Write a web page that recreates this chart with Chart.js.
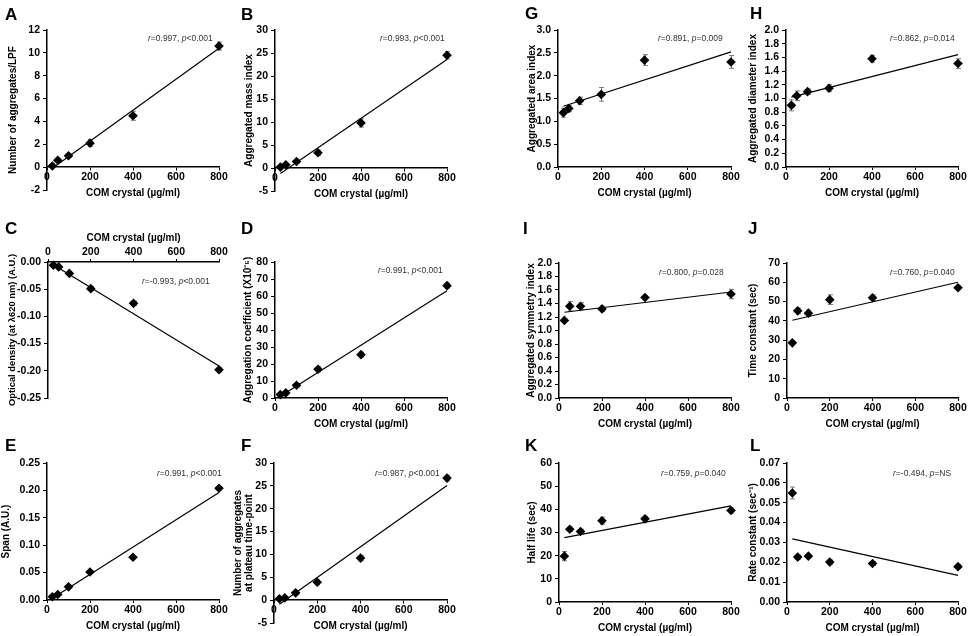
<!DOCTYPE html>
<html><head><meta charset="utf-8">
<script src="https://cdn.jsdelivr.net/npm/chart.js@4"></script>
<style>
body{margin:0;width:970px;height:636px;position:relative;overflow:hidden;background:#fff;font-family:"Liberation Sans",Arial,sans-serif}
canvas{position:absolute}
.lt{position:absolute;font-weight:bold;font-size:17px;line-height:17px;color:#000}
.rt{position:absolute;font-size:8.5px;line-height:10px;color:#333;white-space:nowrap}
</style></head><body>
<script>
// ---------- data ----------
const X = [25, 50, 100, 200, 400, 800];
const xTickLabels = ['0', '200', '400', '600', '800'];
const xTitle = 'COM crystal (µg/ml)';

const A_values = [0.1, 0.6, 1.0, 2.1, 4.5, 10.6];
const A_errors = [0.1, 0.15, 0.15, 0.3, 0.4, 0.35];
const A_trend = [-0.1, 10.4];
const A_yTicks = ['-2', '0', '2', '4', '6', '8', '10', '12'];

const B_values = [0.2, 0.7, 1.4, 3.3, 9.8, 24.5];
const B_errors = [0.2, 0.3, 0.3, 0.6, 0.9, 0.8];
const B_trend = [-1.2, 23.6];
const B_yTicks = ['-5', '0', '5', '10', '15', '20', '25', '30'];

const C_values = [-0.006, -0.009, -0.021, -0.049, -0.076, -0.198];
const C_errors = [0.002, 0.002, 0.003, 0.004, 0.004, 0.004];
const C_trend = [-0.005, -0.191];
const C_yTicks = ['-0.25', '-0.20', '-0.15', '-0.10', '-0.05', '0.00'];

const D_values = [2.0, 3.0, 7.5, 16.9, 25.5, 66.1];
const D_errors = [0.5, 0.8, 1.0, 1.5, 1.5, 1.5];
const D_trend = [1.0, 63.1];
const D_yTicks = ['0', '10', '20', '30', '40', '50', '60', '70', '80'];

const E_values = [0.006, 0.010, 0.024, 0.051, 0.078, 0.204];
const E_errors = [0.002, 0.002, 0.003, 0.003, 0.003, 0.003];
const E_trend = [0.003, 0.196];
const E_yTicks = ['0.00', '0.05', '0.10', '0.15', '0.20', '0.25'];

const F_values = [0.3, 0.5, 1.6, 3.9, 9.2, 26.7];
const F_errors = [0.3, 0.3, 0.4, 0.5, 0.6, 0.6];
const F_trend = [-0.9, 25.1];
const F_yTicks = ['-5', '0', '5', '10', '15', '20', '25', '30'];

const G_values = [1.19, 1.28, 1.45, 1.59, 2.34, 2.30];
const G_errors = [0.10, 0.07, 0.08, 0.15, 0.12, 0.14];
const G_trend = [1.33, 2.52];
const G_yTicks = ['0.0', '0.5', '1.0', '1.5', '2.0', '2.5', '3.0'];

const H_values = [0.90, 1.04, 1.10, 1.15, 1.58, 1.51];
const H_errors = [0.08, 0.07, 0.04, 0.05, 0.05, 0.07];
const H_trend = [1.02, 1.64];
const H_yTicks = ['0.0', '0.2', '0.4', '0.6', '0.8', '1.0', '1.2', '1.4', '1.6', '1.8', '2.0'];

const I_values = [1.15, 1.36, 1.36, 1.32, 1.49, 1.54];
const I_errors = [0.02, 0.07, 0.05, 0.04, 0.02, 0.07];
const I_trend = [1.27, 1.57];
const I_yTicks = ['0.0', '0.2', '0.4', '0.6', '0.8', '1.0', '1.2', '1.4', '1.6', '1.8', '2.0'];

const J_values = [28.6, 45.2, 44.0, 51.0, 52.0, 57.2];
const J_errors = [1.0, 1.5, 1.5, 2.5, 1.5, 1.0];
const J_trend = [40.3, 60.0];
const J_yTicks = ['0', '10', '20', '30', '40', '50', '60', '70'];

const K_values = [19.8, 31.4, 30.4, 35.1, 35.9, 39.5];
const K_errors = [2.0, 1.0, 1.0, 1.5, 1.0, 1.0];
const K_trend = [27.8, 41.5];
const K_yTicks = ['0', '10', '20', '30', '40', '50', '60'];

const L_values = [0.0549, 0.0226, 0.0231, 0.0201, 0.0194, 0.0178];
const L_errors = [0.003, 0.001, 0.001, 0.001, 0.001, 0.001];
const L_trend = [0.0318, 0.0134];
const L_yTicks = ['0.00', '0.01', '0.02', '0.03', '0.04', '0.05', '0.06', '0.07'];

// ---------- panels (data refs + layout) ----------
const panels = [
  {id:'A', v:A_values, e:A_errors, t:A_trend, yt:A_yTicks, title:'Number of aggregates/LPF', r:'0.997', p:'<0.001',
   g:{L:47, R:219, T:30, B:190, tc:13, xpos:'zero', letter:[5,6], rt:[148,38]}},
  {id:'B', v:B_values, e:B_errors, t:B_trend, yt:B_yTicks, title:'Aggregated mass index', r:'0.993', p:'<0.001',
   g:{L:275, R:447, T:30, B:191, tc:249, xpos:'zero', letter:[241,6], rt:[380,38]}},
  {id:'C', v:C_values, e:C_errors, t:C_trend, yt:C_yTicks, title:'Optical density (at λ620 nm) (A.U.)', r:'-0.993', p:'<0.001',
   g:{L:48, R:219, T:262, B:398, tc:13, xpos:'top', letter:[5,220], rt:[142,281], ts:9.4}},
  {id:'D', v:D_values, e:D_errors, t:D_trend, yt:D_yTicks, title:'Aggregation coefficient (X10⁻⁵)', r:'0.991', p:'<0.001',
   g:{L:275, R:447, T:262, B:398, tc:248, xpos:'bottom', letter:[241,220], rt:[378,270]}},
  {id:'E', v:E_values, e:E_errors, t:E_trend, yt:E_yTicks, title:'Span (A.U.)', r:'0.991', p:'<0.001',
   g:{L:47, R:219, T:463, B:600, tc:6, xpos:'bottom', letter:[5,437], rt:[157,473]}},
  {id:'F', v:F_values, e:F_errors, t:F_trend, yt:F_yTicks, title:['Number of aggregates','at plateau time-point'], r:'0.987', p:'<0.001',
   g:{L:274, R:447, T:463, B:623, tc:239, xpos:'zero', letter:[241,437], rt:[375,473], tlh:1.05}},
  {id:'G', v:G_values, e:G_errors, t:G_trend, yt:G_yTicks, title:'Aggregated area index', r:'0.891', p:'=0.009',
   g:{L:558, R:731, T:30, B:167, tc:532, xpos:'bottom', letter:[525,5], rt:[658,38]}},
  {id:'H', v:H_values, e:H_errors, t:H_trend, yt:H_yTicks, title:'Aggregated diameter index', r:'0.862', p:'=0.014',
   g:{L:786, R:958, T:30, B:167, tc:753, xpos:'bottom', letter:[750,5], rt:[890,38]}},
  {id:'I', v:I_values, e:I_errors, t:I_trend, yt:I_yTicks, title:'Aggregated symmetry index', r:'0.800', p:'=0.028',
   g:{L:559, R:731, T:263, B:398, tc:531, xpos:'bottom', letter:[523,220], rt:[659,272]}},
  {id:'J', v:J_values, e:J_errors, t:J_trend, yt:J_yTicks, title:'Time constant (sec)', r:'0.760', p:'=0.040',
   g:{L:787, R:958, T:263, B:398, tc:753, xpos:'bottom', letter:[748,220], rt:[890,272]}},
  {id:'K', v:K_values, e:K_errors, t:K_trend, yt:K_yTicks, title:'Half life (sec)', r:'0.759', p:'=0.040',
   g:{L:559, R:731, T:463, B:602, tc:532, xpos:'bottom', letter:[525,437], rt:[661,473]}},
  {id:'L', v:L_values, e:L_errors, t:L_trend, yt:L_yTicks, title:'Rate constant (sec⁻¹)', r:'-0.494', p:'=NS',
   g:{L:787, R:958, T:463, B:602, tc:753, xpos:'bottom', letter:[750,437], rt:[893,473]}}
];

Chart.defaults.font.family = '"Liberation Sans", Arial, sans-serif';
Chart.defaults.font.size = 10;
Chart.defaults.font.weight = 'bold';
Chart.defaults.color = '#000';

const errPlugin = {
  id: 'errbars',
  beforeDatasetsDraw(chart, args, opts) {
    const err = opts.err; if (!err) return;
    const {ctx} = chart; const x = chart.scales.x, y = chart.scales.y;
    const ds = chart.data.datasets[0];
    ctx.save(); ctx.strokeStyle = '#7a7a7a'; ctx.lineWidth = 1;
    ds.data.forEach((pt, i) => {
      const e = err[i];
      const px = Math.round(x.getPixelForValue(pt.x)) + 0.5;
      const y1 = y.getPixelForValue(pt.y + e), y2 = y.getPixelForValue(pt.y - e);
      ctx.beginPath();
      ctx.moveTo(px, y1); ctx.lineTo(px, y2);
      ctx.moveTo(px - 2.5, y1); ctx.lineTo(px + 2.5, y1);
      ctx.moveTo(px - 2.5, y2); ctx.lineTo(px + 2.5, y2);
      ctx.stroke();
    });
    ctx.restore();
  }
};

function build(p) {
  const g = p.g;
  const cl = g.tc - 8;
  const Wy = g.L - cl;
  const isTop = g.xpos === 'top', isBottom = g.xpos === 'bottom';
  const padT = isTop ? 0 : 10;
  const topH = isTop ? 34 : 0;
  const ct = g.T - padT - topH;
  const padR = 12;
  const padB = isBottom ? 0 : (isTop ? 14 : 12);
  const botH = isBottom ? 34 : 0;
  const W = g.R + padR - cl;
  const H = g.B + botH + padB - ct;
  const cv = document.createElement('canvas');
  cv.width = W; cv.height = H;
  cv.style.left = cl + 'px'; cv.style.top = ct + 'px';
  cv.style.width = W + 'px'; cv.style.height = H + 'px';
  document.body.appendChild(cv);

  const lt = document.createElement('div');
  lt.className = 'lt'; lt.textContent = p.id;
  lt.style.left = g.letter[0] + 'px'; lt.style.top = g.letter[1] + 'px';
  document.body.appendChild(lt);

  const rt = document.createElement('div');
  rt.className = 'rt';
  rt.innerHTML = '<i>r</i>=' + p.r + ', <i>p</i>' + p.p.replace('<', '&lt;');
  rt.style.left = g.rt[0] + 'px'; rt.style.top = (g.rt[1] - 5) + 'px';
  document.body.appendChild(rt);

  const xPos = g.xpos === 'zero' ? {y: 0} : g.xpos;
  const yVals = p.yt.map(Number);

  new Chart(cv, {
    type: 'scatter',
    data: {datasets: [
      {data: X.map((x, i) => ({x: x, y: p.v[i]})), pointStyle: 'rectRot', pointRadius: 4.8,
       backgroundColor: '#000', borderColor: '#000', borderWidth: 0, clip: false},
      {type: 'line', data: [{x: X[0], y: p.t[0]}, {x: X[X.length - 1], y: p.t[1]}],
       borderColor: '#000', borderWidth: 1.2, pointRadius: 0, fill: false, tension: 0, clip: false}
    ]},
    options: {
      responsive: false, animation: false, events: [], devicePixelRatio: 1,
      layout: {padding: {left: 0, top: padT, right: padR, bottom: padB}},
      plugins: {legend: {display: false}, tooltip: {enabled: false}, errbars: {err: p.e}},
      scales: {
        x: {
          type: 'linear', position: xPos, min: 0, max: 800,
          afterBuildTicks: s => { s.ticks = xTickLabels.map(l => ({value: Number(l)})); },
          afterFit: s => { s.height = 34; },
          ticks: {autoSkip: false, maxRotation: 0, padding: 1, font: {size: 10.5, weight: 'bold'},
                  callback: (v, i) => xTickLabels[i]},
          grid: {display: true, drawOnChartArea: false, drawTicks: true, tickLength: 3, color: '#000', lineWidth: 1},
          border: {display: true, color: '#000', width: 1.5},
          title: {display: true, text: xTitle, font: {size: 10, weight: 'bold'},
                  padding: isTop ? {top: 4, bottom: 0} : {top: 0, bottom: 2}}
        },
        y: {
          type: 'linear', position: 'left', min: yVals[0], max: yVals[yVals.length - 1],
          afterBuildTicks: s => { s.ticks = yVals.map(v => ({value: v})); },
          afterFit: s => { s.width = Wy; },
          ticks: {autoSkip: false, padding: 3, font: {size: 10.5, weight: 'bold'}, callback: (v, i) => p.yt[i]},
          grid: {display: true, drawOnChartArea: false, drawTicks: true, tickLength: 4, color: '#000', lineWidth: 1},
          border: {display: true, color: '#000', width: 1.5},
          title: {display: true, text: p.title, font: {size: g.ts || 10, weight: 'bold', lineHeight: g.tlh || 1.2},
                  padding: {top: 2, bottom: 0}}
        }
      }
    },
    plugins: [errPlugin]
  });
}
panels.forEach(build);
</script>
</body></html>
